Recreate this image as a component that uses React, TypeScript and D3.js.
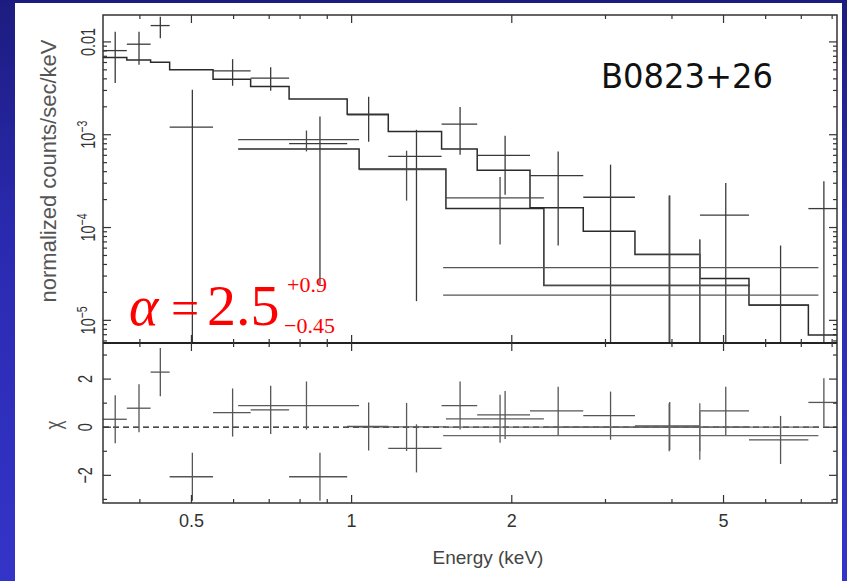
import React from "react";
import * as d3 from "d3";

// ---------- data ----------
// Dataset A (upper spectrum) — energy bins (keV)
const binLoA = [0.341, 0.378, 0.419, 0.455, 0.549, 0.646, 0.763, 0.981, 1.172, 1.476, 1.722, 2.164, 2.725, 3.408, 4.515, 5.582, 7.218];
const binHiA = [0.378, 0.419, 0.455, 0.549, 0.646, 0.763, 0.981, 1.172, 1.476, 1.722, 2.164, 2.725, 3.408, 4.515, 5.582, 7.218, 8.22];
const rateA = [8.06e-3, 9.45e-3, 1.5e-2, 1.21e-3, 4.88e-3, 4.07e-3, 8.0e-4, 1.64e-3, 5.84e-4, 1.3e-3, 5.99e-4, 3.62e-4, 2.12e-4, 5.13e-5, 1.36e-4, 1.45e-5, 1.6e-4];
const rateHiA = [1.29e-2, 1.29e-2, 1.87e-2, 3.05e-3, 6.52e-3, 5.35e-3, 1.57e-3, 2.56e-3, 1.13e-3, 1.99e-3, 9.75e-4, 6.61e-4, 4.76e-4, 2.21e-4, 3.02e-4, 6.4e-5, 3.15e-4];
const rateLoA = [3.6e-3, 5.66e-3, 1.096e-2, 0, 3.37e-3, 2.97e-3, 2.44e-5, 8.41e-4, 1.61e-5, 6.1e-4, 2.26e-4, 6.4e-5, 0, 0, 0, 0, 0];
const modelA = [6.78e-3, 6.4e-3, 6.05e-3, 5.0e-3, 3.97e-3, 3.31e-3, 2.42e-3, 1.66e-3, 1.085e-3, 7.02e-4, 4.13e-4, 1.63e-4, 9.12e-5, 5.13e-5, 2.83e-5, 1.46e-5, 6.95e-6];
const chiA = [0.33, 0.79, 2.29, -2.06, 0.61, 0.72, -2.06, 0.03, -0.88, 0.9, 0.51, 0.68, 0.48, 0.05, 0.68, -0.53, 1.03];

// Dataset B (lower spectrum)
const binLoB = [0.612, 1.033, 1.504, 2.298];
const binHiB = [1.033, 1.504, 2.298, 5.606];
const rateB = [8.84e-4, 4.21e-4, 2.09e-4, 2.38e-5];
const rateHiB = [1.11e-3, 6.73e-4, 3.51e-4, 2.21e-4];
const rateLoB = [6.61e-4, 1.95e-4, 6.56e-5, 0];
const modelB = [7.02e-4, 4.28e-4, 1.6e-4, 2.38e-5];
const chiB = [0.9, 0.01, 0.35, 0.0];

// Wide-bin points
const binLoC = [1.486, 1.486];
const binHiC = [7.538, 7.538];
const rateC = [3.69e-5, 1.87e-5];
const rateHiC = [7.43e-5, 7.43e-5];
const rateLoC = [0, 0];
const chiC = [-0.35, 0.0];

// ticks
const xMajor = [0.5, 1, 2, 5];
const xMajorLabels = ["0.5", "1", "2", "5"];
const xMinor = [0.4, 0.6, 0.7, 0.8, 0.9, 3, 4, 6, 7, 8];
const yMajor = [1e-2, 1e-3, 1e-4, 1e-5];
const yMajorBase = ["0.01", "10", "10", "10"];
const yMajorExp = ["", "\u22123", "\u22124", "\u22125"];
const rMajor = [-2, 0, 2];
const rMajorLabels = ["\u22122", "0", "2"];
const rMinor = [-3, -1, 1, 3];

// ---------- layout ----------
const W = 847, H = 581;
const L = 103, R = 837, T = 15, MID = 343, B = 503;

export default function App() {
  const x = d3.scaleLog().domain([0.341, 8.17]).range([L, R]);
  const y = d3.scaleLog().domain([5.7e-6, 0.0195]).range([MID, T]);
  const yr = d3.scaleLinear().domain([-3.15, 3.5]).range([B, MID]);
  const yMin = 5.7e-6;

  const yMinor = y.ticks().filter((v) => !yMajor.some((m) => Math.abs(m - v) / m < 1e-6));

  const stepLine = (lo: number[], hi: number[], m: number[]) => {
    const pts: [number, number][] = lo.map((l, i) => [l, m[i]]);
    pts.push([hi[hi.length - 1], m[m.length - 1]]);
    return d3
      .line<[number, number]>()
      .x((d) => x(d[0]))
      .y((d) => y(d[1]))
      .curve(d3.curveStepAfter)(pts) as string;
  };

  const crosses = (
    lo: number[], hi: number[], v: number[], vHi: number[], vLo: number[], key: string, color: string
  ) =>
    lo.map((l, i) => {
      const xc = x((l + hi[i]) / 2);
      return (
        <g key={key + i} stroke={color} strokeWidth={1.3}>
          <line x1={x(l)} x2={x(hi[i])} y1={y(v[i])} y2={y(v[i])} />
          <line x1={xc} x2={xc} y1={y(vHi[i])} y2={y(Math.max(vLo[i], yMin * 0.5))} />
        </g>
      );
    });

  const resCrosses = (lo: number[], hi: number[], c: number[], key: string, color: string) =>
    lo.map((l, i) => {
      const xc = x((l + hi[i]) / 2);
      return (
        <g key={key + i} stroke={color} strokeWidth={1.3}>
          <line x1={x(l)} x2={x(hi[i])} y1={yr(c[i])} y2={yr(c[i])} />
          <line x1={xc} x2={xc} y1={yr(c[i] + 1)} y2={yr(c[i] - 1)} />
        </g>
      );
    });

  const axisColor = "#333";
  const textColor = "#333";
  const font = "'Liberation Sans', Arial, sans-serif";

  const xTicks = (yBase: number, dir: number, key: string) => (
    <g key={key} stroke={axisColor} strokeWidth={1.2}>
      {xMajor.map((v, i) => (
        <line key={"M" + i} x1={x(v)} x2={x(v)} y1={yBase} y2={yBase + dir * 8} />
      ))}
      {xMinor.map((v, i) => (
        <line key={"m" + i} x1={x(v)} x2={x(v)} y1={yBase} y2={yBase + dir * 4} />
      ))}
    </g>
  );

  return (
    <svg
      width={W}
      height={H}
      style={{ position: "absolute", left: 0, top: 0 }}
      xmlns="http://www.w3.org/2000/svg"
    >
      <defs>
        <linearGradient id="bg" x1="0" y1="0" x2="0" y2="1">
          <stop offset="0" stopColor="#1c1c80" />
          <stop offset="0.4" stopColor="#2a2ab0" />
          <stop offset="1" stopColor="#3434c8" />
        </linearGradient>
        <clipPath id="clipTop">
          <rect x={L} y={T} width={R - L} height={MID - T} />
        </clipPath>
        <clipPath id="clipBot">
          <rect x={L} y={MID} width={R - L} height={B - MID} />
        </clipPath>
      </defs>
      <rect x={0} y={0} width={W} height={H} fill="url(#bg)" />
      <rect x={15} y={3} width={827} height={H - 3} fill="#ffffff" />

      {/* ---------- top panel ---------- */}
      <g clipPath="url(#clipTop)" fill="none">
        <path d={stepLine(binLoA, binHiA, modelA)} stroke="#2a2a2a" strokeWidth={1.5} />
        <path d={stepLine(binLoB, binHiB, modelB)} stroke="#2a2a2a" strokeWidth={1.5} />
        {crosses(binLoA, binHiA, rateA, rateHiA, rateLoA, "a", "#3a3a3a")}
        {crosses(binLoB, binHiB, rateB, rateHiB, rateLoB, "b", "#4a4a4a")}
        {crosses(binLoC, binHiC, rateC, rateHiC, rateLoC, "c", "#555")}
      </g>

      {/* ---------- bottom panel ---------- */}
      <g clipPath="url(#clipBot)" fill="none">
        <line x1={L} x2={R} y1={yr(0)} y2={yr(0)} stroke="#111" strokeWidth={1.3} strokeDasharray="6 4" />
        {resCrosses(binLoA, binHiA, chiA, "ra", "#555")}
        {resCrosses(binLoB, binHiB, chiB, "rb", "#5a5a5a")}
        {resCrosses(binLoC, binHiC, chiC, "rc", "#666")}
      </g>

      {/* ---------- axes frames ---------- */}
      <rect x={L} y={T} width={R - L} height={B - T} fill="none" stroke={axisColor} strokeWidth={1.5} />
      <line x1={L} x2={R} y1={MID} y2={MID} stroke="#222" strokeWidth={2} />

      {xTicks(T, 1, "xt1")}
      {xTicks(MID, -1, "xt2")}
      {xTicks(MID, 1, "xt3")}
      {xTicks(B, -1, "xt4")}

      {/* y ticks */}
      <g stroke={axisColor} strokeWidth={1.2}>
        {yMajor.map((v, i) => (
          <g key={"ym" + i}>
            <line x1={L} x2={L + 8} y1={y(v)} y2={y(v)} />
            <line x1={R} x2={R - 8} y1={y(v)} y2={y(v)} />
          </g>
        ))}
        {yMinor.map((v, i) => (
          <g key={"yn" + i}>
            <line x1={L} x2={L + 4} y1={y(v)} y2={y(v)} />
            <line x1={R} x2={R - 4} y1={y(v)} y2={y(v)} />
          </g>
        ))}
        {rMajor.map((v, i) => (
          <g key={"rm" + i}>
            <line x1={L} x2={L + 8} y1={yr(v)} y2={yr(v)} />
            <line x1={R} x2={R - 8} y1={yr(v)} y2={yr(v)} />
          </g>
        ))}
        {rMinor.map((v, i) => (
          <g key={"rn" + i}>
            <line x1={L} x2={L + 4} y1={yr(v)} y2={yr(v)} />
            <line x1={R} x2={R - 4} y1={yr(v)} y2={yr(v)} />
          </g>
        ))}
      </g>

      {/* y tick labels (rotated) */}
      <g fill={textColor} fontFamily={font} fontSize={14.5}>
        {yMajor.map((v, i) => (
          <text
            key={"yl" + i}
            transform={`translate(95,${y(v)}) scale(1.4,1) rotate(-90)`}
            textAnchor="middle"
          >
            {yMajorBase[i]}
            {yMajorExp[i] && (
              <tspan dy={-6} fontSize={10.5}>
                {yMajorExp[i]}
              </tspan>
            )}
          </text>
        ))}
        {rMajor.map((v, i) => (
          <text
            key={"rl" + i}
            transform={`translate(92,${yr(v)}) scale(1.4,1) rotate(-90)`}
            textAnchor="middle"
          >
            {rMajorLabels[i]}
          </text>
        ))}
      </g>

      {/* axis titles */}
      <text
        transform={`translate(56,171) rotate(-90)`}
        textAnchor="middle"
        fontFamily={font}
        fontSize={22}
        fill="#555"
      >
        normalized counts/sec/keV
      </text>
      <text
        transform={`translate(61,425) scale(1.3,1) rotate(-90)`}
        textAnchor="middle"
        fontFamily={font}
        fontSize={17}
        fill="#555"
      >
        χ
      </text>

      {/* x tick labels */}
      <g fill={textColor} fontFamily={font} fontSize={18} textAnchor="middle">
        {xMajor.map((v, i) => (
          <text key={"xl" + i} x={x(v)} y={527}>
            {xMajorLabels[i]}
          </text>
        ))}
      </g>
      <text x={488} y={564} textAnchor="middle" fontFamily={font} fontSize={19} fill="#444">
        Energy (keV)
      </text>

      {/* source name */}
      <text
        x={601}
        y={88}
        fontFamily="'DejaVu Sans', sans-serif"
        fontSize={34}
        textLength={172}
        lengthAdjust="spacingAndGlyphs"
        fill="#111"
      >
        B0823+26
      </text>

      {/* spectral index annotation */}
      <g fill="#ff0000" fontFamily="'Liberation Serif', 'Times New Roman', serif">
        <text x={129} y={325} fontSize={56} fontStyle="italic">
          α
        </text>
        <text x={171} y={325} fontSize={50}>
          =
        </text>
        <text x={207} y={325} fontSize={58}>
          2.5
        </text>
        <text x={287} y={292} fontSize={22}>
          +0.9
        </text>
        <text x={284} y={333} fontSize={22}>
          −0.45
        </text>
      </g>
    </svg>
  );
}
